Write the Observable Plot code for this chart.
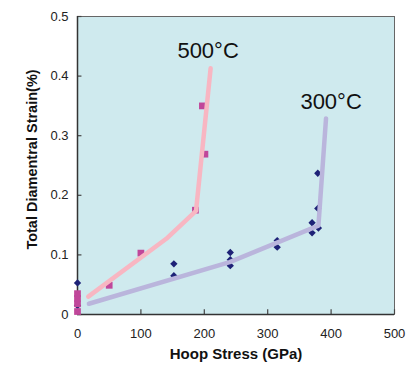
<!DOCTYPE html>
<html>
<head>
<meta charset="utf-8">
<script src="https://cdn.jsdelivr.net/npm/d3@7"></script>
<script src="https://cdn.jsdelivr.net/npm/@observablehq/plot@0.6"></script>
<style>
  html, body { margin: 0; padding: 0; background: #fff; }
  svg { display: block; font-family: "Liberation Sans", Arial, sans-serif; }
</style>
</head>
<body>
<div id="chart"></div>
<script>
// Tick values
const xTicks = [0, 100, 200, 300, 400, 500];
const yTicks = [0, 0.1, 0.2, 0.3, 0.4, 0.5];

// 500°C measured points (squares)
const s500X = [0, 0, 0, 0, 50, 100, 186, 201, 197];
const s500Y = [0.005, 0.018, 0.027, 0.035, 0.049, 0.103, 0.175, 0.269, 0.350];

// 300°C measured points (diamonds)
const s300X = [0, 0, 152, 152, 241, 241, 241, 315, 315, 370, 370, 380, 379, 379];
const s300Y = [0.015, 0.053, 0.065, 0.085, 0.082, 0.092, 0.104, 0.113, 0.124, 0.137, 0.154, 0.145, 0.178, 0.237];

// Trend lines
const line500X = [17, 140, 187, 210];
const line500Y = [0.030, 0.127, 0.174, 0.413];
const line300X = [18, 240, 380, 392];
const line300Y = [0.018, 0.088, 0.149, 0.329];

// Series labels
const labelText = ["500°C", "300°C"];
const labelX = [206, 400];
const labelY = [0.442, 0.357];

const zip = (xs, ys) => xs.map((x, i) => ({x, y: ys[i]}));
const pts500 = zip(s500X, s500Y);
const pts300 = zip(s300X, s300Y);
const ln500 = zip(line500X, line500Y);
const ln300 = zip(line300X, line300Y);
const labels = labelText.map((t, i) => ({t, x: labelX[i], y: labelY[i]}));

const chart = Plot.plot({
  width: 408,
  height: 367,
  marginLeft: 77,
  marginRight: 14,
  marginTop: 16,
  marginBottom: 53,
  style: {fontFamily: "Liberation Sans, Arial, sans-serif", fontSize: "13px", color: "#222", background: "#fff"},
  x: {domain: [0, 500], ticks: xTicks, tickSize: 0, tickPadding: 14, label: null},
  y: {domain: [0, 0.5], ticks: yTicks, tickSize: 0, tickPadding: 9, label: null,
      tickFormat: d => d === 0 ? "0" : d.toFixed(1)},
  marks: [
    Plot.frame({fill: "#cfeaee", stroke: "#666"}),
    Plot.ruleX(xTicks, {x: d => d, y1: 0, y2: 0.008, stroke: "#444", strokeWidth: 1.2}),
    Plot.ruleY(yTicks, {y: d => d, x1: 0, x2: 7, stroke: "#444", strokeWidth: 1.2}),
    Plot.ruleX([0], {stroke: "#333", strokeWidth: 1.5}),
    Plot.ruleY([0], {stroke: "#333", strokeWidth: 1.5}),
    Plot.dot(pts300, {x: "x", y: "y", symbol: "diamond2", r: 3.3, fill: "#1e2277", stroke: "none"}),
    Plot.dot(pts500, {x: "x", y: "y", symbol: "square", r: 3.8, fill: "#c0479a", stroke: "none"}),
    Plot.line(ln300, {x: "x", y: "y", stroke: "#bab5dc", strokeWidth: 4.5}),
    Plot.line(ln500, {x: "x", y: "y", stroke: "#f8b6c2", strokeWidth: 4.5}),
    Plot.text(labels, {x: "x", y: "y", text: "t", fontSize: 22, fill: "#111"}),
    Plot.text(["Hoop Stress (GPa)"], {frameAnchor: "bottom", dy: 44, fontWeight: "bold", fontSize: 15, fill: "#111"}),
    Plot.text(["Total Diamentral Strain(%)"], {frameAnchor: "left", textAnchor: "middle", rotate: -90, dx: -45, dy: -6, fontWeight: "bold", fontSize: 14.5, fill: "#111"})
  ]
});
document.getElementById("chart").appendChild(chart);
</script>
</body>
</html>
